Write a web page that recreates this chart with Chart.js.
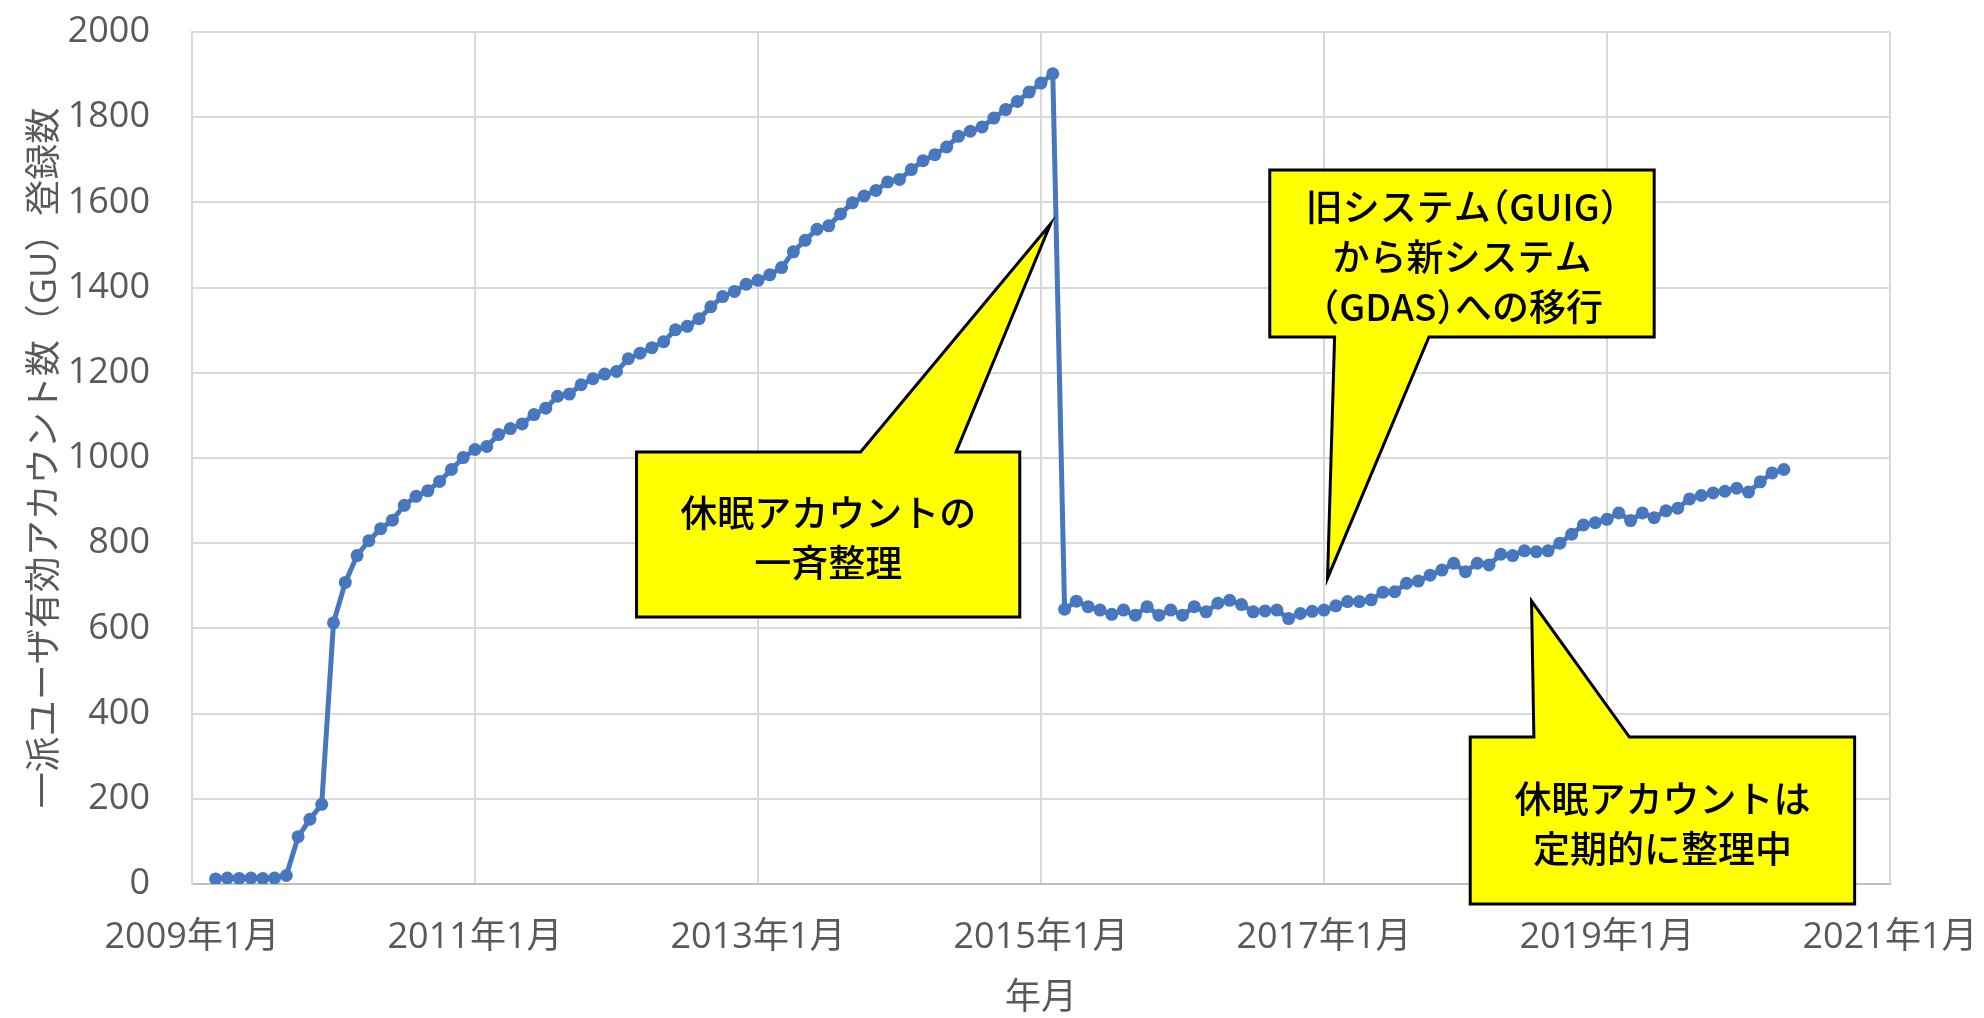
<!DOCTYPE html>
<html lang="ja">
<head>
<meta charset="utf-8">
<title>一派ユーザ有効アカウント数</title>
<script src="https://cdn.jsdelivr.net/npm/chart.js@4.4.1/dist/chart.umd.min.js"></script>
<style>
  html, body { margin: 0; padding: 0; background: #fff; }
  #wrap { width: 1984px; height: 1018px; }
</style>
</head>
<body>
<div id="wrap"><canvas id="grafico-gu" width="1984" height="1018"></canvas></div>
<script>
// monthly registrations, first value is 2009-03
const startMonth = '2009-03';
const counts = [
  12, 14, 13, 14, 13, 14, 20, 111, 152, 187,                         // 2009
  613, 708, 771, 806, 834, 854, 889, 910, 923, 945, 973, 1001,       // 2010
  1020, 1027, 1055, 1069, 1080, 1102, 1117, 1145, 1150, 1172, 1186, 1197, // 2011
  1203, 1233, 1246, 1259, 1273, 1301, 1309, 1327, 1355, 1379, 1391, 1408, // 2012
  1417, 1430, 1447, 1484, 1511, 1537, 1545, 1573, 1599, 1615, 1628, 1648, // 2013
  1654, 1677, 1698, 1712, 1730, 1755, 1767, 1777, 1798, 1818, 1837, 1859, // 2014
  1880, 1902, 645, 664, 651, 643, 633, 643, 631, 651, 631, 643,      // 2015
  631, 651, 639, 659, 666, 656, 639, 641, 643, 623, 635, 640,        // 2016
  643, 653, 663, 663, 667, 685, 686, 706, 711, 725, 737, 753,        // 2017
  733, 753, 749, 774, 771, 782, 780, 782, 800, 821, 843, 848,        // 2018
  856, 871, 853, 871, 860, 876, 882, 904, 912, 918, 922, 929,        // 2019
  920, 944, 965, 973                                                 // 2020
];
const xTickLabels = ['2009年1月', '2011年1月', '2013年1月', '2015年1月', '2017年1月', '2019年1月', '2021年1月'];
const yTitle = '一派ユーザ有効アカウント数（GU）登録数';
const xTitle = '年月';

// callouts, in axis units (months since 2009-01, accounts)
const callouts = [
  { lines: ['休眠アカウントの', '一斉整理'], box: [37.7, 70.2, 1014, 627], side: 'top', base: [56.7, 64.8], tip: [72.8, 1549] },
  { lines: ['旧システム（GUIG）', 'から新システム', '（GDAS）への移行'], box: [91.4, 124.0, 1676, 1284], side: 'bottom', base: [96.9, 104.9], tip: [96.3, 718] },
  { lines: ['休眠アカウントは', '定期的に整理中'], box: [108.4, 141.0, 345, -47], side: 'top', base: [113.8, 121.9], tip: [113.6, 664] }
];

function addMonths(ym, n) {
  const [y, m] = ym.split('-').map(Number);
  const t = y * 12 + (m - 1) + n;
  return Math.floor(t / 12) + '-' + String(t % 12 + 1).padStart(2, '0');
}

function monthIndex(ym) {
  const [y, m] = ym.split('-').map(Number);
  return (y - 2009) * 12 + (m - 1);
}

const months = counts.map((_, i) => addMonths(startMonth, i));
const points = months.map((ym, i) => ({ x: monthIndex(ym), y: counts[i] }));

const baseFont = "'Open Sans', 'Noto Sans CJK JP', sans-serif";
const gray = '#595959';
const blue = '#4677bf';

// full-width brackets take half an em, like a proportional gothic font
function charAdvance(ctx, ch, em) {
  if (ch === '（' || ch === '）') return em / 2;
  return ctx.measureText(ch).width;
}

function drawTightText(ctx, text, cx, cy, em) {
  const chars = [...text];
  const total = chars.reduce((s, ch) => s + charAdvance(ctx, ch, em), 0);
  let x = cx - total / 2;
  ctx.textAlign = 'left';
  chars.forEach(ch => {
    const dx = ch === '（' ? -em / 2 : 0;
    ctx.fillText(ch, x + dx, cy);
    x += charAdvance(ctx, ch, em);
  });
}

const calloutPlugin = {
  id: 'callouts',
  afterDraw(chart) {
    const { ctx } = chart;
    const xs = chart.scales.x, ys = chart.scales.y;
    ctx.save();
    callouts.forEach(c => {
      const L = xs.getPixelForValue(c.box[0]), R = xs.getPixelForValue(c.box[1]);
      const T = ys.getPixelForValue(c.box[2]), B = ys.getPixelForValue(c.box[3]);
      const b1 = xs.getPixelForValue(c.base[0]), b2 = xs.getPixelForValue(c.base[1]);
      const tx = xs.getPixelForValue(c.tip[0]), ty = ys.getPixelForValue(c.tip[1]);

      ctx.beginPath();
      ctx.moveTo(L, T);
      if (c.side === 'top') { ctx.lineTo(b1, T); ctx.lineTo(tx, ty); ctx.lineTo(b2, T); }
      ctx.lineTo(R, T);
      ctx.lineTo(R, B);
      if (c.side === 'bottom') { ctx.lineTo(b2, B); ctx.lineTo(tx, ty); ctx.lineTo(b1, B); }
      ctx.lineTo(L, B);
      ctx.closePath();
      ctx.fillStyle = '#ffff00';
      ctx.fill();
      ctx.lineWidth = 3;
      ctx.lineJoin = 'miter';
      ctx.strokeStyle = '#000';
      ctx.stroke();

      const em = 37;
      ctx.fillStyle = '#000';
      ctx.font = "500 " + em + "px 'Noto Sans CJK JP', sans-serif";
      ctx.textBaseline = 'middle';
      const lh = 50;
      const cy = (T + B) / 2 + 3 - (c.lines.length - 1) * lh / 2;
      c.lines.forEach((t, i) => drawTightText(ctx, t, (L + R) / 2, cy + i * lh, em));
    });
    ctx.restore();
  }
};

new Chart(document.getElementById('grafico-gu'), {
  type: 'line',
  data: {
    datasets: [{
      label: yTitle,
      data: points,
      borderColor: blue,
      backgroundColor: blue,
      borderWidth: 5,
      pointRadius: 6.5,
      pointBorderWidth: 0,
      pointBackgroundColor: blue,
      tension: 0
    }]
  },
  options: {
    responsive: false,
    animation: false,
    layout: { padding: { left: 0, right: 94, top: 32, bottom: 0 } },
    plugins: { legend: { display: false }, tooltip: { enabled: false } },
    scales: {
      x: {
        type: 'linear',
        min: 0,
        max: 144,
        afterFit: s => { s.height = 134; s.paddingLeft = 0; s.paddingRight = 0; },
        ticks: {
          stepSize: 24,
          padding: 32,
          color: gray,
          font: { family: baseFont, size: 36, lineHeight: 1.2 },
          maxRotation: 0,
          callback: v => xTickLabels[v / 24]
        },
        grid: { color: '#d9d9d9', lineWidth: 2, drawTicks: false },
        border: { color: '#bfbfbf', width: 2 },
        title: {
          display: true,
          text: xTitle,
          color: gray,
          font: { family: baseFont, size: 36, lineHeight: 1 },
          padding: { top: 0, bottom: 1 }
        }
      },
      y: {
        min: 0,
        max: 2000,
        afterFit: s => { s.width = 192; s.paddingTop = 0; s.paddingBottom = 0; },
        ticks: {
          stepSize: 200,
          padding: 42,
          color: gray,
          font: { family: baseFont, size: 36 },
          callback: v => String(v)
        },
        grid: { color: '#d9d9d9', lineWidth: 2, drawTicks: false },
        border: { color: '#d9d9d9', width: 2 },
        title: {
          display: true,
          text: yTitle,
          color: gray,
          font: { family: baseFont, size: 36, lineHeight: 1.2 },
          padding: { top: 24, bottom: 0 }
        }
      }
    }
  },
  plugins: [calloutPlugin]
});
</script>
</body>
</html>
